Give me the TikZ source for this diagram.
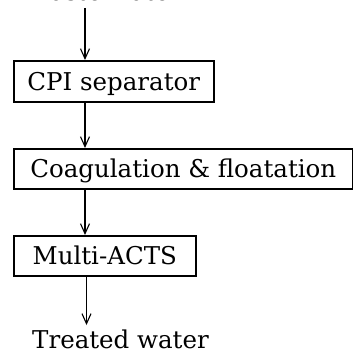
\documentclass[tikz,border=0pt]{standalone}
\usepackage{fontspec}
\setmainfont{DejaVu Serif}
\usetikzlibrary{arrows.meta}
\begin{document}
\begin{tikzpicture}[x=1pt,y=-1pt,
  lbl/.style={font=\fontsize{24.5}{29}\selectfont, text height=17.8pt, text depth=0pt},
  stepbox/.style={lbl, draw, line width=1.6pt, anchor=north west, inner sep=0pt},
  flow/.style={line width=1.1pt, -{Straight Barb[length=10pt,width=9pt,line width=1.1pt]}}]
\useasboundingbox (0,0) rectangle (353,353);
\node[lbl, anchor=base west, inner xsep=0pt, inner ysep=7pt] (raw) at (27,0.8) {Waste water};
\node[stepbox, minimum width=200pt, minimum height=41pt] (cpi) at (13,60) {CPI separator};
\node[stepbox, minimum width=339pt, minimum height=40pt] (coag) at (13,148) {Coagulation \& floatation};
\node[stepbox, minimum width=182pt, minimum height=40pt] (acts) at (13,235) {Multi-ACTS};
\node[lbl, anchor=base west, inner xsep=0pt, inner ysep=5pt] (out) at (32,348) {Treated water};
\coordinate (col) at (85,0);
\draw[flow] (raw.south -| col) -- (cpi.north -| col);
\draw[flow] (cpi.south -| col) -- (coag.north -| col);
\draw[flow] (coag.south -| col) -- (acts.north -| col);
\draw[flow] ([xshift=1.5pt]acts.south -| col) -- ([xshift=1.5pt]out.north -| col);
\end{tikzpicture}
\end{document}
